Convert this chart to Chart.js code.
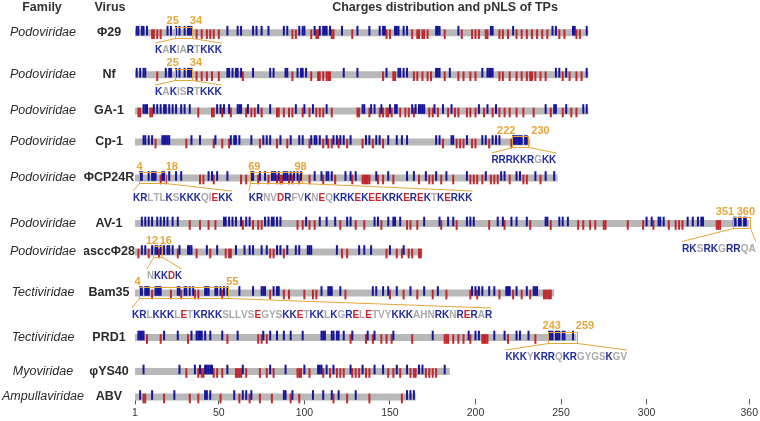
<!DOCTYPE html>
<html>
<head>
<meta charset="utf-8">
<script src="https://cdn.jsdelivr.net/npm/chart.js@4.4.1/dist/chart.umd.min.js"></script>
<style>
  html, body { margin: 0; padding: 0; background: #fff; }
  #wrap { width: 760px; height: 421px; position: relative; }
</style>
</head>
<body>
<div id="wrap"><canvas id="chart"></canvas></div>
<script>
const FAMILIES = ["Podoviridae", "Podoviridae", "Podoviridae", "Podoviridae", "Podoviridae", "Podoviridae",
  "Podoviridae", "Tectiviridae", "Tectiviridae", "Myoviridae", "Ampullaviridae"];
const VIRUSES = ["Φ29", "Nf", "GA-1", "Cp-1", "ΦCP24R", "AV-1", "asccΦ28", "Bam35", "PRD1", "φYS40", "ABV"];
const LENGTHS = [266, 266, 266, 232, 248, 360, 169, 246, 259, 185, 165];

// positively charged residues (K, R) per protein
const POSITIVE = [
  [2, 3, 5, 6, 8, 20, 22, 25, 27, 30, 32, 33, 34, 55, 61, 63, 70, 72, 75, 79, 88, 90, 97, 99, 100, 106, 109, 111, 112, 113, 115, 122, 131, 138, 144, 146, 147, 153, 154, 155, 158, 160, 177, 178, 179, 190, 209, 210, 222, 245, 247, 257, 258, 265],
  [2, 4, 6, 7, 19, 21, 22, 25, 27, 30, 32, 33, 34, 55, 56, 58, 60, 61, 63, 70, 80, 82, 89, 90, 96, 98, 99, 101, 123, 131, 148, 155, 156, 158, 160, 177, 178, 179, 185, 204, 207, 208, 209, 210, 247, 249, 253, 265],
  [6, 7, 8, 12, 14, 16, 18, 19, 21, 23, 25, 28, 30, 33, 49, 51, 53, 56, 61, 62, 63, 67, 73, 80, 95, 100, 105, 113, 134, 135, 139, 141, 145, 150, 153, 154, 163, 165, 167, 168, 169, 170, 176, 181, 186, 202, 207, 212, 241, 246, 247, 253, 263, 265],
  [6, 7, 9, 11, 17, 18, 19, 20, 21, 34, 39, 48, 57, 59, 60, 62, 69, 76, 78, 80, 86, 92, 97, 99, 104, 106, 107, 109, 113, 117, 119, 121, 123, 127, 136, 138, 142, 144, 149, 154, 157, 160, 177, 179, 186, 187, 195, 204, 206, 210, 212, 214, 222, 223, 224, 225, 226, 227, 229, 230],
  [4, 5, 9, 11, 12, 13, 17, 18, 21, 25, 28, 44, 46, 49, 55, 69, 70, 74, 77, 81, 82, 83, 85, 88, 89, 90, 92, 94, 96, 98, 106, 110, 113, 114, 116, 124, 127, 130, 142, 149, 160, 164, 171, 177, 183, 195, 206, 215, 217, 224, 226, 235, 241, 246],
  [5, 7, 9, 11, 14, 16, 18, 20, 23, 26, 53, 54, 56, 58, 60, 63, 66, 68, 77, 79, 81, 82, 84, 86, 101, 109, 113, 118, 125, 127, 141, 143, 149, 152, 153, 156, 170, 179, 184, 187, 195, 197, 199, 213, 216, 221, 224, 230, 241, 242, 249, 251, 254, 300, 303, 307, 308, 310, 324, 327, 330, 332, 333, 351, 352, 354, 355, 357, 358],
  [5, 7, 11, 13, 14, 16, 18, 20, 21, 23, 27, 32, 33, 34, 43, 49, 60, 65, 68, 70, 75, 78, 84, 86, 90, 95, 97, 102, 103, 104, 119, 132, 135, 139, 150, 158],
  [4, 5, 7, 8, 9, 13, 14, 15, 16, 26, 27, 30, 31, 33, 35, 42, 43, 44, 48, 49, 51, 53, 55, 62, 70, 75, 76, 77, 82, 84, 85, 110, 114, 115, 116, 121, 140, 142, 146, 149, 154, 162, 170, 178, 198, 200, 202, 204, 208, 211, 218, 219, 220, 224, 230, 234, 235, 236],
  [3, 4, 5, 6, 18, 26, 34, 37, 38, 39, 40, 42, 45, 52, 61, 76, 80, 84, 88, 92, 99, 110, 111, 112, 116, 117, 119, 120, 123, 128, 137, 141, 152, 175, 196, 200, 202, 211, 217, 224, 226, 231, 243, 244, 245, 247, 248, 249, 251, 252, 257],
  [6, 27, 36, 39, 42, 43, 44, 45, 46, 55, 64, 80, 89, 100, 108, 109, 110, 113, 117, 127, 134, 141, 146, 154, 160, 167, 169, 182],
  [4, 11, 24, 42, 43, 45, 59, 64, 66, 69, 88, 89, 93, 105, 111, 116, 120, 130, 160, 162, 164]
];

// negatively charged residues (D, E) per protein
const NEGATIVE = [
  [11, 12, 14, 16, 37, 40, 43, 45, 47, 50, 93, 95, 104, 107, 108, 116, 117, 128, 148, 150, 163, 166, 167, 169, 170, 172, 182, 192, 198, 200, 202, 206, 207, 214, 216, 219, 224, 227, 230, 233, 236, 239, 242, 249, 252, 259, 261],
  [14, 37, 40, 43, 46, 50, 64, 93, 104, 108, 109, 111, 113, 114, 115, 146, 152, 153, 164, 166, 169, 172, 174, 182, 190, 193, 197, 200, 214, 216, 220, 224, 227, 230, 232, 233, 235, 238, 241, 251, 255, 259, 262],
  [3, 4, 10, 11, 38, 46, 47, 52, 57, 66, 69, 71, 75, 84, 85, 88, 91, 93, 99, 103, 107, 109, 111, 116, 131, 132, 138, 144, 146, 148, 149, 151, 156, 159, 161, 164, 173, 175, 178, 184, 188, 190, 195, 197, 200, 205, 210, 214, 217, 220, 224, 228, 234, 244, 251, 256, 259],
  [13, 31, 47, 52, 56, 74, 84, 90, 103, 111, 114, 116, 120, 125, 134, 140, 146, 181, 189, 191, 193, 198, 200, 208, 221],
  [16, 19, 39, 41, 47, 63, 66, 73, 79, 84, 86, 87, 91, 93, 97, 103, 111, 118, 128, 134, 135, 136, 137, 138, 143, 146, 152, 167, 173, 175, 180, 187, 197, 199, 201, 204, 209, 211, 213, 220, 228, 230, 238],
  [33, 39, 44, 48, 64, 70, 73, 75, 96, 99, 103, 106, 121, 130, 135, 145, 160, 162, 166, 180, 189, 208, 217, 232, 244, 260, 263, 267, 270, 275, 276, 289, 298, 304, 313, 317, 319, 321, 341, 342, 343],
  [3, 9, 15, 26, 37, 45, 54, 56, 57, 80, 82, 88, 122, 125, 148, 154, 157, 161, 163, 167, 168],
  [11, 22, 28, 36, 38, 52, 80, 88, 91, 100, 105, 107, 124, 150, 158, 166, 175, 183, 197, 201, 214, 222, 227, 232, 240, 241, 242, 243, 244],
  [8, 16, 32, 55, 73, 75, 78, 127, 136, 140, 145, 148, 151, 163, 182, 183, 184, 187, 190, 193, 197, 204, 205, 206, 207, 219, 235],
  [31, 38, 40, 41, 47, 49, 52, 60, 61, 62, 63, 66, 74, 78, 82, 96, 97, 98, 103, 111, 115, 119, 121, 123, 128, 130, 132, 136, 138, 149, 152, 156, 162, 164, 165, 171, 173, 175, 177],
  [6, 7, 18, 33, 38, 51, 62, 68, 74, 81, 92, 97, 117, 125, 138, 157]
];

// predicted NLS (pNLS) segments
const NLS_ROW = [0, 1, 3, 4, 4, 5, 6, 7, 8];
const NLS_START = [25, 25, 222, 4, 69, 351, 12, 4, 243];
const NLS_END = [34, 34, 230, 18, 98, 360, 16, 55, 259];
const NLS_SEQ = ["KAKIARTKKK", "KAKISRTKKK", "RRRKKRGKK", "KRLTLKSKKKQIEKK",
  "KRNVDRFVKNEQKRKEKEEKRKEREKTKERKK", "RKSRKGRRQA", "NKKDK",
  "KRLKKKLETKRKKSLLVSEGYSKKETKKLKGRELETVYKKKAHNRKNRERAR", "KKKYKRRQKRGYGSKGV"];

const X_TICKS = [1, 50, 100, 150, 200, 250, 300, 360];

// layout (row centres in px, text spans in residue units)
const ROW_Y = [32.7, 74.7, 111, 142, 178, 223.5, 252, 293, 337.5, 371.5, 397];
const NLS_TEXT_FROM = [12.7, 12.7, 209.3, -0.2, 67.5, 320.7, 8, -0.75, 217.5];
const NLS_TEXT_TO = [51.8, 51.8, 247.2, 57.6, 198.2, 363.9, 28.4, 209.3, 288.6];
const NLS_TEXT_DY = [17.5, 17.5, 18, 20, 20, 25, 24, 22, 19.5];
const NLS_LABEL_X = [[23, 36.6], [23, 36.6], [218, 238], [3.7, 22.5], [70.7, 97.8], [345.8, 358], [11, 19], [2.5, 57.9], [244.6, 264]];

const FONT = "'Liberation Sans', Arial, sans-serif";
const BAR_GRAY = "#b8b8b8";
const BLUE = "#15159c";
const RED = "#c1272d";
const ORANGE = "#e6a63a";
const SEQ_BLUE = "#1f2a9e";
const SEQ_RED = "#c8262e";
const SEQ_GRAY = "#a9a9a9";

function letterColor(ch) {
  if (ch === "K" || ch === "R") return SEQ_BLUE;
  if (ch === "D" || ch === "E") return SEQ_RED;
  return SEQ_GRAY;
}

function drawSeq(ctx, seq, x0, x1, y) {
  ctx.save();
  ctx.font = "bold 11px " + FONT;
  ctx.textAlign = "left";
  ctx.textBaseline = "middle";
  const w = ctx.measureText(seq).width;
  ctx.translate(x0, y);
  ctx.scale((x1 - x0) / w, 1);
  let x = 0;
  for (const ch of seq) {
    ctx.fillStyle = letterColor(ch);
    ctx.fillText(ch, x, 0);
    x += ctx.measureText(ch).width;
  }
  ctx.restore();
}

const pnlsPlugin = {
  id: "pnls",
  afterDatasetsDraw(chart) {
    const ctx = chart.ctx;
    const xs = chart.scales.x;
    const ys = chart.scales.y;
    NLS_ROW.forEach((row, k) => {
      const cy = ys.getPixelForValue(ROW_Y[row]);
      const x0 = Math.round(xs.getPixelForValue(NLS_START[k] - 0.5)) + 0.5;
      const x1 = Math.round(xs.getPixelForValue(NLS_END[k] + 0.5)) + 0.5;
      const top = Math.round(cy - 6) + 0.5;
      const bot = Math.round(cy + 5) + 0.5;
      const tx0 = xs.getPixelForValue(NLS_TEXT_FROM[k]);
      const tx1 = xs.getPixelForValue(NLS_TEXT_TO[k]);
      const ty = cy + NLS_TEXT_DY[k];

      ctx.save();
      ctx.strokeStyle = ORANGE;
      ctx.lineWidth = 1;
      ctx.strokeRect(x0, top, x1 - x0, bot - top);
      ctx.beginPath();
      ctx.moveTo(x0, bot);
      ctx.lineTo(tx0, ty - 7);
      ctx.moveTo(x1, bot);
      ctx.lineTo(tx1, ty - 7);
      ctx.stroke();

      ctx.fillStyle = ORANGE;
      ctx.font = "bold 11px " + FONT;
      ctx.textAlign = "center";
      ctx.textBaseline = "middle";
      ctx.fillText(String(NLS_START[k]), xs.getPixelForValue(NLS_LABEL_X[k][0]), cy - 11.5);
      ctx.fillText(String(NLS_END[k]), xs.getPixelForValue(NLS_LABEL_X[k][1]), cy - 11.5);
      ctx.restore();

      drawSeq(ctx, NLS_SEQ[k], tx0, tx1, ty);
    });
  },
  afterDraw(chart) {
    const ctx = chart.ctx;
    ctx.save();
    ctx.fillStyle = "#333";
    ctx.font = "bold 12.5px " + FONT;
    ctx.textAlign = "center";
    ctx.textBaseline = "middle";
    ctx.fillText("Family", 42, 8);
    ctx.fillText("Virus", 110, 8);
    ctx.fillText("Charges distribution and pNLS of TPs", 445, 8);
    ctx.restore();
  }
};

const barSets = LENGTHS.map((len, i) => ({
  type: "line",
  data: [{ x: 1, y: ROW_Y[i] }, { x: len, y: ROW_Y[i] }],
  borderColor: BAR_GRAY,
  borderWidth: 7,
  borderCapStyle: "butt",
  pointRadius: 0,
  showLine: true,
  clip: false,
  order: 3
}));

function tickSet(lists, dy, color, order) {
  return {
    type: "scatter",
    data: lists.flatMap((arr, i) => arr.map((p) => ({ x: p, y: ROW_Y[i] + dy }))),
    pointStyle: "line",
    pointRotation: 90,
    pointRadius: 4.8,
    pointHoverRadius: 4.8,
    pointBorderWidth: 2,
    pointBorderColor: color,
    pointBackgroundColor: color,
    clip: false,
    order
  };
}

function rowAxis(labels, weight, width, font) {
  return {
    type: "linear",
    position: "left",
    weight,
    reverse: true,
    min: 0,
    max: 421,
    grid: { display: false, drawTicks: false },
    border: { display: false },
    afterBuildTicks: (s) => { s.ticks = ROW_Y.map((v) => ({ value: v })); },
    afterFit: (s) => { s.width = width; },
    ticks: {
      autoSkip: false,
      crossAlign: "center",
      padding: 0,
      color: "#2b2b2b",
      font,
      callback: (v, i) => labels[i]
    }
  };
}

const chart = new Chart(document.getElementById("chart"), {
  type: "scatter",
  data: {
    datasets: [...barSets, tickSet(NEGATIVE, 1.5, RED, 2), tickSet(POSITIVE, -2, BLUE, 1)]
  },
  options: {
    responsive: true,
    maintainAspectRatio: false,
    animation: false,
    events: [],
    layout: { padding: { left: 0, right: 10, top: 0, bottom: 0 } },
    plugins: { legend: { display: false }, tooltip: { enabled: false } },
    scales: {
      x: {
        type: "linear",
        min: 1,
        max: 360,
        afterBuildTicks: (s) => { s.ticks = X_TICKS.map((v) => ({ value: v })); },
        grid: { drawOnChartArea: false, tickLength: 5, color: "#555" },
        border: { display: false },
        ticks: { autoSkip: false, maxRotation: 0, padding: 2, color: "#333", font: { family: FONT, size: 10.5 } }
      },
      fam: rowAxis(FAMILIES, 2, 84, { family: FONT, size: 12.5, style: "italic" }),
      y: rowAxis(VIRUSES, 1, 51, { family: FONT, size: 12.5, weight: "bold" })
    }
  },
  plugins: [pnlsPlugin]
});

const area = chart.chartArea;
for (const id of ["fam", "y"]) {
  chart.options.scales[id].min = area.top;
  chart.options.scales[id].max = area.bottom;
}
chart.update("none");
</script>
</body>
</html>
